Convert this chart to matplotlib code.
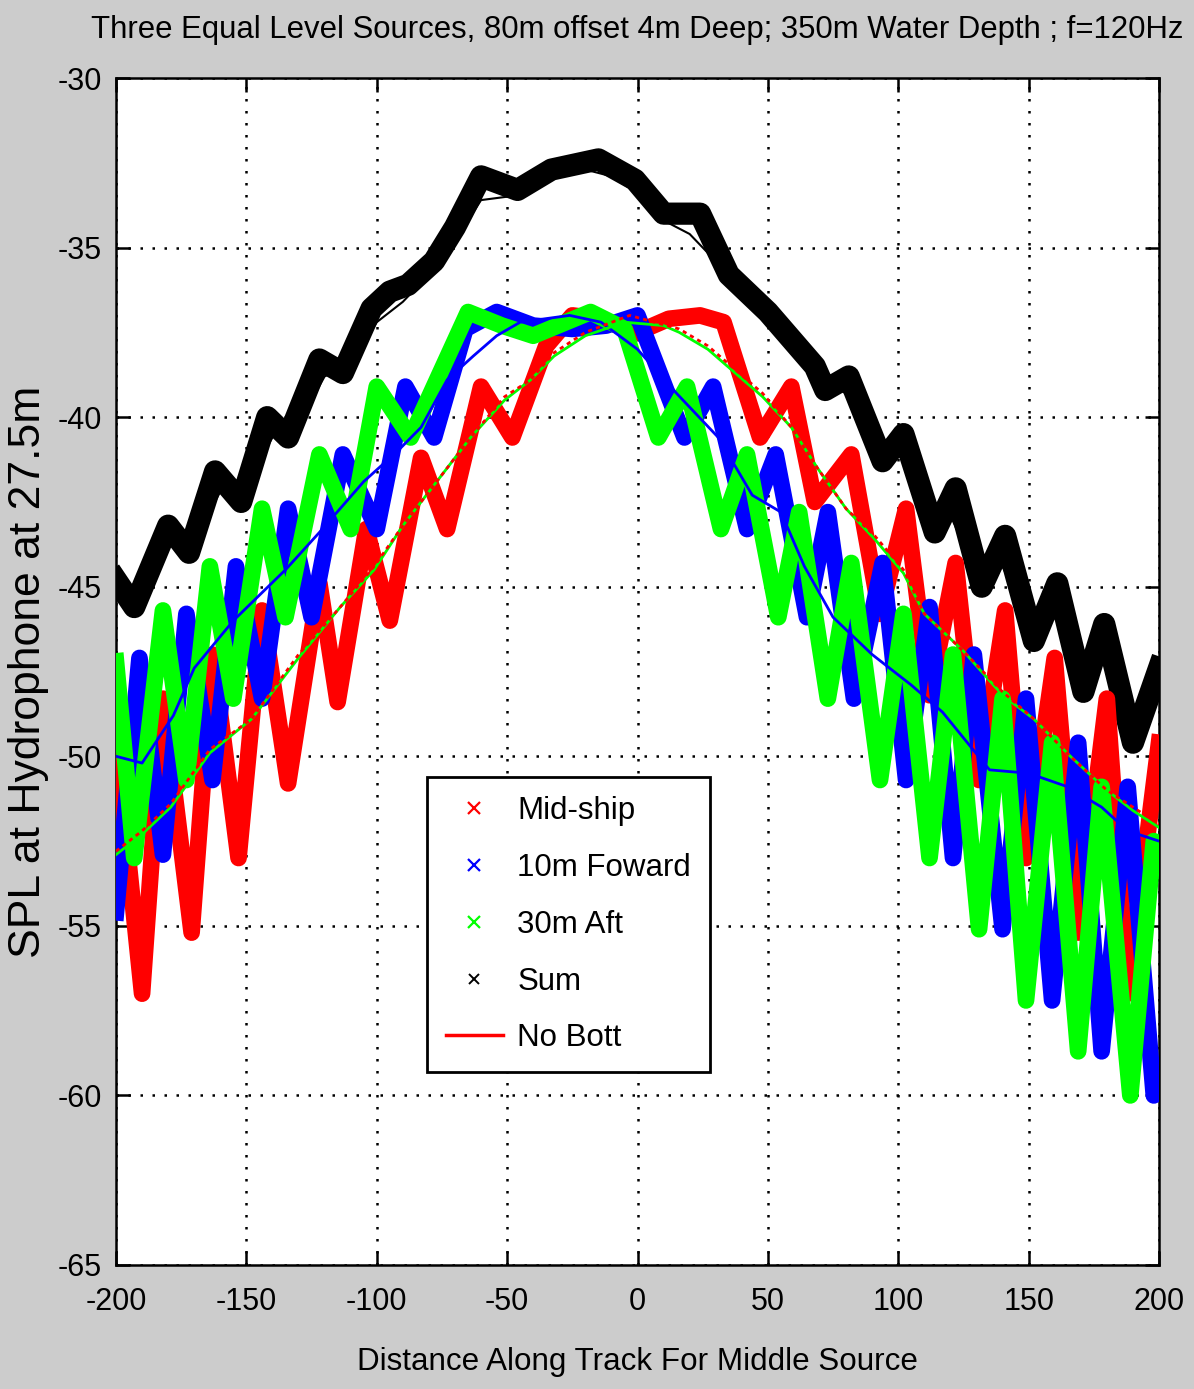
import matplotlib.pyplot as plt
from matplotlib.lines import Line2D

plt.rcParams['font.family'] = ['Liberation Sans', 'DejaVu Sans']
plt.rcParams['axes.unicode_minus'] = False

# ====== data (distance m, SPL dB) ======
# thick "x" bands: peaks and troughs of each source
mid_x = [-200, -190, -182, -171, -163, -153, -144, -134, -122, -115, -104, -95, -83, -73,
         -60, -48, -35, -25, -15, 0, 12, 24, 33, 47, 59, 68, 82, 93, 103, 112, 122, 131,
         141, 149, 160, 169, 180, 188, 200]
mid_y = [-49.5, -57.0, -48.3, -55.2, -47.0, -53.0, -45.7, -50.8, -44.9, -48.4, -43.3, -46.0,
         -41.2, -43.3, -39.1, -40.6, -37.9, -37.0, -37.1, -37.5, -37.1, -37.0, -37.2, -40.6,
         -39.1, -42.5, -41.1, -45.8, -42.7, -48.2, -44.3, -50.7, -45.7, -53.0, -47.1, -55.2,
         -48.3, -57.0, -49.6]

fwd_x = [-200, -191, -182, -173, -163, -154, -144, -134, -125, -113, -100, -89, -78, -66,
         -54, -40, -25, -12, 0, 18, 29, 42, 53, 65, 73, 83, 94, 103, 112, 121, 129, 140,
         149, 159, 169, 178, 188, 198, 200]
fwd_y = [-54.6, -47.1, -52.9, -45.8, -50.7, -44.4, -48.3, -42.7, -45.9, -41.1, -43.3, -39.1,
         -40.6, -37.4, -36.9, -37.3, -37.4, -37.3, -37.0, -40.6, -39.1, -43.3, -41.1, -45.9,
         -42.8, -48.3, -44.3, -50.7, -45.6, -53.0, -47.0, -55.1, -48.3, -57.2, -49.6, -58.7,
         -50.9, -60.0, -59.6]

aft_x = [-200, -193, -182, -173, -164, -155, -144, -135, -122, -110, -100, -87, -65, -52,
         -40, -18, -5, 8, 19, 32, 42, 54, 62, 73, 82, 93, 102, 112, 121, 131, 140, 149,
         159, 169, 178, 189, 198, 200]
aft_y = [-47.2, -53.0, -45.7, -50.7, -44.4, -48.3, -42.7, -45.9, -41.1, -43.3, -39.1, -40.6,
         -36.9, -37.3, -37.6, -36.9, -37.4, -40.6, -39.1, -43.3, -41.1, -45.9, -42.8, -48.3,
         -44.3, -50.7, -45.8, -53.0, -47.0, -55.1, -48.3, -57.2, -49.6, -58.7, -50.9, -60.0,
         -52.5, -52.7]

sum_x = [-200, -193, -180, -172, -162, -152, -142, -134, -122, -113, -102, -95, -88, -78,
         -70, -60, -46, -33, -15, -1, 10, 24, 35, 50, 68, 72, 81, 94, 102, 114, 122, 132,
         141, 152, 161, 171, 179, 190, 200]
sum_y = [-44.8, -45.6, -43.2, -44.0, -41.6, -42.5, -40.0, -40.6, -38.3, -38.7, -36.8, -36.3,
         -36.1, -35.4, -34.4, -32.9, -33.3, -32.7, -32.4, -33.0, -34.0, -34.0, -35.8, -36.9,
         -38.5, -39.2, -38.8, -41.3, -40.5, -43.4, -42.1, -45.0, -43.5, -46.6, -44.9, -48.1,
         -46.1, -49.6, -47.4]

# thin lines (smoothed curves)
nob_x = [-200, -190, -179, -164, -148, -130, -114, -101, -90, -77, -64, -51, -41, -32, -20,
         -3, 16, 27, 36, 48, 59, 69, 80, 91, 102, 110, 125, 140, 152, 166, 180, 190, 200]
nob_y = [-52.8, -52.2, -51.4, -49.8, -48.9, -47.0, -45.6, -44.4, -43.2, -41.9, -40.6, -39.4,
         -38.9, -38.1, -37.5, -37.0, -37.4, -37.9, -38.5, -39.3, -40.3, -41.5, -42.7, -43.5,
         -44.5, -45.8, -46.9, -48.1, -48.9, -50.0, -51.0, -51.5, -52.0]

aft_thin_x = [-200, -190, -179, -164, -148, -130, -114, -101, -90, -77, -64, -51, -41, -32,
              -20, -5, 10, 16, 27, 36, 48, 59, 69, 80, 91, 102, 110, 125, 140, 152, 166,
              180, 190, 200]
aft_thin_y = [-52.9, -52.3, -51.5, -49.9, -48.9, -47.1, -45.6, -44.5, -43.2, -41.9, -40.6,
              -39.5, -38.9, -38.2, -37.6, -37.2, -37.3, -37.5, -38.0, -38.6, -39.4, -40.3,
              -41.5, -42.7, -43.6, -44.6, -45.8, -46.9, -48.2, -48.9, -50.0, -51.0, -51.6,
              -52.1]

fwd_thin_x = [-200, -190, -178, -170, -155, -135, -122, -105, -92, -83, -73, -63, -54, -45,
              -26, -14, 0, 15, 31, 44, 55, 64, 75, 90, 105, 117, 135, 150, 165, 178, 188, 200]
fwd_thin_y = [-50.0, -50.2, -48.8, -47.4, -46.0, -44.5, -43.4, -41.9, -41.0, -40.3, -38.9,
              -38.2, -37.6, -37.2, -37.0, -37.2, -38.0, -39.3, -40.6, -42.3, -42.8, -44.4,
              -45.9, -47.0, -47.9, -48.7, -50.4, -50.5, -50.9, -51.5, -52.2, -52.5]

sum_thin_x = [-200, -190, -180, -170, -160, -150, -140, -130, -120, -110, -100, -90, -80,
              -70, -60, -50, -40, -30, -20, -10, 0, 10, 20, 30, 40, 50, 60, 70, 80, 90, 100,
              110, 120, 130, 140, 150, 160, 170, 180, 190, 200]
sum_thin_y = [-45.3, -44.9, -43.8, -43.6, -42.2, -42.0, -40.6, -40.2, -38.8, -38.4, -37.2,
              -36.6, -35.8, -34.8, -33.6, -33.5, -33.2, -32.9, -32.7, -32.9, -33.4, -34.2,
              -34.6, -35.4, -36.5, -37.2, -37.6, -38.9, -39.3, -40.6, -41.0, -42.6, -42.9,
              -44.6, -44.4, -46.1, -45.8, -47.6, -47.0, -49.0, -48.0]

xticks = [-200, -150, -100, -50, 0, 50, 100, 150, 200]
yticks = [-65, -60, -55, -50, -45, -40, -35, -30]

title = 'Three Equal Level Sources, 80m offset 4m Deep; 350m Water Depth ; f=120Hz'
FS = 22

# ====== figure ======
fig = plt.figure(figsize=(11.94, 13.89), dpi=100, facecolor='#cccccc')
ax = fig.add_axes([116/1194, 1 - 1265/1389, 1043/1194, 1187/1389])
ax.set_facecolor('white')

band = 12
ax.plot(sum_x, sum_y, color='black', lw=16, zorder=2)
ax.plot(mid_x, mid_y, color='#ff0000', lw=band, zorder=3)
ax.plot(fwd_x, fwd_y, color='#0000ff', lw=band, zorder=4)
ax.plot(aft_x, aft_y, color='#00ff00', lw=band, zorder=5)

ax.plot(sum_thin_x, sum_thin_y, color='black', lw=1.5, zorder=6)
ax.plot(fwd_thin_x, fwd_thin_y, color='#0000ff', lw=2, zorder=6)
ax.plot(aft_thin_x, aft_thin_y, color='#00ff00', lw=2, zorder=6)
ax.plot(nob_x, nob_y, color='#ff0000', lw=2, ls=(0, (1.5, 1.5)), zorder=7)

ax.set_xlim(-200, 200)
ax.set_ylim(-65, -30)
ax.set_xticks(xticks)
ax.set_yticks(yticks)
ax.grid(True, color='black', linestyle=(0, (1, 3.8)), linewidth=1.8)
ax.set_axisbelow(True)
for s in ax.spines.values():
    s.set_linewidth(1.8)
ax.tick_params(direction='in', length=10, width=1.8, top=True, right=True,
               labelsize=FS)
ax.tick_params(axis='x', pad=16)
ax.tick_params(axis='y', pad=10)

fig.text(637.5/1194, 1 - 30/1389, title, ha='center', va='center', fontsize=22.4)
ax.set_xlabel('Distance Along Track For Middle Source', fontsize=22.6)
ax.xaxis.set_label_coords(0.5, -0.069)
ax.set_ylabel('SPL at Hydrophone at 27.5m', fontsize=32)
ax.yaxis.set_label_coords(-0.064, 0.5)

handles = [
    Line2D([], [], ls='none', marker='x', color='#ff0000', ms=9, mew=1.6),
    Line2D([], [], ls='none', marker='x', color='#0000ff', ms=9, mew=1.6),
    Line2D([], [], ls='none', marker='x', color='#00ff00', ms=9, mew=1.6),
    Line2D([], [], ls='none', marker='x', color='black', ms=7, mew=1.4),
    Line2D([], [], color='#ff0000', lw=2.5),
]
labels = ['Mid-ship', '10m Foward', '30m Aft', 'Sum', 'No Bott']
leg = ax.legend(handles, labels, loc='upper left', bbox_to_anchor=(0.298, 0.411),
                borderaxespad=0, fontsize=22.5, fancybox=False, framealpha=1,
                edgecolor='black', handlelength=1.85, handletextpad=0.45,
                labelspacing=0.86, borderpad=0.6)
leg.get_frame().set_linewidth(2)
leg.set_zorder(10)

fig.savefig('out.png', dpi=100, facecolor=fig.get_facecolor())
